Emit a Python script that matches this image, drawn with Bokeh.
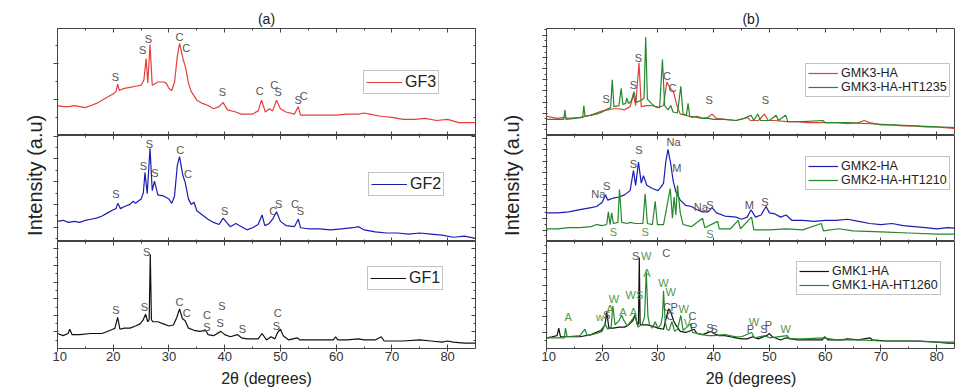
from math import pi
from bokeh.plotting import figure
from bokeh.models import Range1d, LinearAxis, FixedTicker, Label, ColumnDataSource
from bokeh.layouts import row, column
from bokeh.embed import file_html
from bokeh.resources import INLINE
from bokeh.core.properties import value

FONT = "Liberation Sans"

# ---------------- data (2theta in degrees, intensity in a.u. of each sub-panel) -------------
X_MAJOR = [10, 20, 30, 40, 50, 60, 70, 80]
X_MINOR = [15, 25, 35, 45, 55, 65, 75, 85]
X_LABELS = ["10", "20", "30", "40", "50", "60", "70", "80"]

GF3 = [(10, 28), (11, 27), (12, 27), (13, 28), (14, 27), (15, 26), (16, 28), (17, 30), (18, 33),
       (19, 36), (20, 39), (20.5, 41), (20.8, 48), (21.1, 42), (22, 44), (23, 45), (24, 46),
       (25, 47), (25.5, 52), (25.9, 72), (26.2, 49), (26.6, 85), (27, 47), (28, 50), (29, 50),
       (29.5, 49), (30, 44), (30.5, 42), (31, 50), (31.5, 74), (31.9, 86), (32.5, 72), (33, 63),
       (33.5, 49), (34, 41), (35, 33), (36, 30), (37, 28), (38, 25), (39, 27), (39.7, 31),
       (40.5, 24), (42, 22), (43, 20), (45, 20), (46, 23), (46.6, 33), (47.3, 22), (48, 25),
       (48.6, 23), (49.3, 33), (50, 25), (51, 22), (52.5, 20), (53.2, 27), (53.6, 19), (55, 19),
       (57, 19), (60, 19), (62, 20), (64, 20), (65, 21), (66, 20), (68, 18), (70, 17), (72, 15),
       (74, 15), (76, 16), (78, 14), (80, 15), (82, 12), (85, 12)]

GF2 = [(10, 19), (11, 20), (12, 18), (13, 19), (14, 18), (15, 20), (16, 21), (17, 22), (18, 24),
       (19, 27), (20, 30), (20.5, 31), (20.8, 36), (21.3, 31), (22, 33), (23, 35), (23.6, 38),
       (24, 36), (25, 40), (25.4, 46), (25.7, 65), (26.1, 45), (26.6, 88), (27, 48), (27.4, 57),
       (28, 44), (29, 43), (30, 40), (30.5, 36), (31, 43), (31.5, 72), (31.9, 80), (32.5, 62),
       (32.9, 56), (33.5, 40), (34, 35), (34.5, 37), (35, 29), (36, 25), (37, 21), (38, 18),
       (39, 16), (39.7, 22), (40.5, 17), (41, 14), (42, 17), (43, 14), (44, 11), (45, 13),
       (46, 16), (46.7, 25), (47.2, 15), (48, 17), (48.6, 21), (49.3, 28), (50, 19), (51, 15),
       (52.5, 14), (53.2, 21), (53.6, 13), (55, 12), (57, 12), (59, 11), (61, 12), (63, 13),
       (64, 14), (65, 11), (67, 9), (69, 8), (71, 8), (73, 7), (75, 8), (77, 7), (79, 6),
       (81, 4), (83, 5), (85, 3)]

GF1 = [(10, 14), (11, 12), (11.9, 14), (12.2, 18), (12.6, 13), (14, 13), (16, 14), (18, 14),
       (19.5, 17), (20.3, 19), (20.8, 29), (21.2, 18), (22, 19), (23, 19), (24, 21), (24.8, 23),
       (25.3, 26), (25.8, 32), (26.2, 25), (26.45, 27), (26.65, 88), (26.85, 27), (27.1, 25),
       (28, 25), (29, 23), (30, 21), (30.8, 22), (31.4, 29), (31.9, 37), (32.4, 28), (32.9, 26),
       (33.5, 19), (34.5, 17), (35.5, 16), (36.6, 17), (37, 13), (38, 12), (39.3, 16), (40, 13),
       (41, 11), (42.3, 13), (43, 10), (44, 9), (45, 9), (46, 9), (46.7, 14), (47.5, 8),
       (48.3, 11), (49, 9), (49.5, 15), (50, 18), (50.5, 12), (51.5, 8), (53, 10), (53.5, 8),
       (55, 8), (57, 8), (59.5, 8), (59.9, 11), (60.3, 8), (62, 8), (64, 9), (65, 8), (67, 8),
       (68.1, 11), (68.6, 7), (70, 7), (72, 7), (75, 8), (77, 7), (79, 6), (80, 7), (81, 6),
       (83, 5), (85, 5)]

GMK3_HA = [(10, 18), (11, 17), (12, 16), (13, 17), (14, 16), (16, 17), (18, 19), (20, 23),
           (21, 24), (22, 25), (23, 25), (24, 24), (25, 27), (25.6, 38), (26, 28), (26.6, 68),
           (27, 27), (28, 28), (29, 28), (30, 26), (31, 28), (31.6, 50), (32.2, 44), (32.8, 41),
           (33.4, 28), (34, 20), (35, 19), (36, 17), (37, 18), (38, 16), (39, 17), (39.7, 20),
           (40.5, 16), (42, 15), (44, 14), (46.1, 17), (46.6, 14), (48, 14), (49.1, 20),
           (49.8, 14), (51, 14), (53, 13), (55, 13), (57, 12), (60, 12), (62, 12), (64, 11),
           (66, 12), (67, 14), (68, 12), (70, 10), (72, 10), (74, 9), (76, 9), (78, 8), (80, 8),
           (82, 7), (85, 6)]

GMK3_HT1235 = [(10, 15), (12, 15), (13.1, 15), (13.3, 24), (13.5, 15), (15, 16), (16.5, 17),
               (16.7, 28), (16.9, 18), (18, 19), (19, 20), (20, 22), (21, 25), (21.5, 26),
               (21.8, 52), (22.1, 27), (23, 28), (23.4, 44), (23.7, 29), (24.2, 30), (24.4, 35),
               (24.7, 30), (25.2, 32), (25.7, 41), (26.1, 31), (27, 33), (27.5, 35), (27.8, 92),
               (28.1, 34), (28.8, 30), (29.5, 27), (30.3, 26), (30.8, 71), (31.2, 28), (31.8, 24),
               (32.3, 28), (32.7, 22), (33.5, 21), (34.1, 46), (34.5, 20), (35.1, 19), (35.4, 30),
               (35.7, 18), (37, 17), (38, 16), (39, 16), (40, 15), (42, 15), (44, 14), (45.5, 16),
               (46.7, 19), (47.2, 14), (47.9, 20), (48.4, 14), (50, 14), (51.2, 19), (51.6, 14),
               (52.9, 19), (53.3, 13), (56, 13), (59.6, 14), (60, 12), (64, 12), (68, 11),
               (72, 10), (76, 9), (80, 8), (85, 7)]

GMK2_HA = [(10, 27), (12, 27), (14, 28), (16, 30), (18, 32), (19, 33), (20, 37), (20.6, 44),
           (21, 39), (22, 41), (23, 42), (24, 44), (25, 48), (25.6, 67), (26, 53), (26.5, 75),
           (27, 55), (27.4, 62), (28, 53), (29, 50), (30, 48), (30.5, 51), (31, 55), (31.4, 75),
           (31.8, 87), (32.3, 73), (32.7, 58), (33.2, 47), (34, 39), (35, 34), (36, 33), (37, 30),
           (38, 28), (39, 28), (39.7, 32), (40.5, 27), (42, 24), (44, 23), (45, 21), (46, 23),
           (46.7, 30), (47.5, 23), (48.5, 25), (49.4, 33), (50, 27), (51, 26), (52, 23), (53, 25),
           (54, 20), (56, 20), (58, 19), (60, 20), (62, 20), (64, 21), (66, 19), (68, 17),
           (70, 16), (72, 17), (74, 15), (76, 14), (78, 13), (80, 12), (82, 13), (85, 12)]

GMK2_HT1210 = [(10, 12), (12, 12), (14, 13), (16, 13), (18, 14), (19, 16), (20, 15), (20.8, 16),
               (21.1, 28), (21.4, 16), (21.7, 27), (22, 17), (22.8, 18), (23.1, 49), (23.5, 18),
               (24.5, 17), (25, 18), (26, 17), (27.3, 17), (27.7, 45), (28.1, 17), (29, 16),
               (29.5, 38), (29.9, 16), (31, 16), (32.2, 50), (32.6, 22), (32.9, 42), (33.2, 25),
               (33.5, 53), (34, 27), (34.5, 16), (36, 14), (38, 22), (38.4, 13), (40.7, 19),
               (41, 12), (43, 12), (44.4, 20), (44.8, 12), (46.8, 23), (47.2, 11), (50, 11),
               (53, 12), (56, 11), (59.3, 17), (59.7, 10), (62.4, 12), (65, 10), (70, 9),
               (75, 8), (80, 7), (85, 7)]

GMK1_HA = [(10, 10), (11, 11), (11.9, 12), (12.2, 19), (12.5, 11), (14, 11), (16, 11), (18, 13),
           (19.8, 17), (20.5, 22), (20.8, 34), (21.2, 19), (22, 19), (23, 20), (24, 20),
           (24.7, 22), (25.5, 26), (25.9, 31), (26.3, 22), (26.5, 23), (26.65, 85), (26.8, 23),
           (27, 22), (28, 22), (29, 21), (30, 19), (31, 18), (31.5, 29), (31.9, 37), (32.3, 34),
           (32.8, 26), (33.2, 22), (34, 16), (35, 15), (36.5, 18), (37, 14), (38, 13),
           (39.5, 16), (40, 14), (41, 12), (42, 12), (43, 11), (44, 10), (45, 9), (46, 9),
           (47, 11), (48, 9), (49.5, 12), (50, 14), (50.5, 11), (52, 8), (53, 10), (55, 8),
           (57, 8), (59.5, 8), (59.9, 11), (60.5, 8), (63, 8), (64, 9), (66, 8), (68, 10),
           (68.5, 8), (71, 7), (74, 7), (77, 7), (80, 6), (82, 5), (85, 5)]

GMK1_HT1260 = [(10, 10), (12, 10), (13.2, 10), (13.4, 19), (13.7, 11), (16, 12), (16.9, 18),
               (17.3, 12), (19, 14), (20, 16), (20.5, 23), (21, 18), (21.6, 20), (21.9, 40),
               (22.3, 22), (23, 26), (23.5, 31), (23.9, 26), (24.5, 21), (25.5, 28), (25.9, 32),
               (26.4, 20), (27.2, 23), (27.6, 30), (27.9, 72), (28.2, 30), (28.5, 22), (29, 19),
               (29.5, 25), (30, 19), (30.5, 22), (30.8, 30), (31, 54), (31.3, 25), (31.6, 18),
               (32, 17), (32.5, 25), (33, 16), (33.5, 18), (34.1, 31), (34.5, 17), (35.2, 20),
               (35.8, 23), (36.2, 15), (37, 14), (38, 13), (39, 12), (40, 12), (42, 13), (44, 11),
               (45, 11), (46.8, 15), (47.3, 10), (49.2, 12), (50, 10), (53.2, 12), (53.6, 9),
               (56, 9), (59.7, 10), (62, 8), (66, 8), (70, 7), (75, 7), (80, 6), (85, 6)]

# phase labels: (text, 2theta, intensity)
GF3_LBL = [("S", 20.4, 55), ("S", 25.3, 80), ("S", 26.3, 90), ("C", 31.9, 92), ("C", 33.1, 82),
           ("S", 39.6, 41), ("C", 46.3, 42), ("C", 48.9, 47), ("S", 49.6, 41), ("S", 53.2, 33),
           ("C", 54.2, 37)]
GF2_LBL = [("S", 20.5, 45), ("S", 25.4, 71), ("S", 26.5, 92), ("S", 27.5, 65), ("C", 32.0, 86),
           ("C", 33.4, 64), ("S", 40.0, 29), ("C", 48.7, 29), ("S", 49.7, 35), ("C", 52.6, 35),
           ("S", 53.6, 29)]
GF1_LBL = [("S", 26.0, 90), ("S", 20.5, 36), ("S", 25.6, 39), ("C", 31.9, 43), ("C", 33.2, 33),
           ("C", 36.8, 31), ("S", 36.8, 20), ("S", 39.5, 40), ("S", 39.2, 24), ("S", 43.2, 18),
           ("C", 49.5, 33), ("S", 49.3, 21)]
GMK3_LBL = [("S", 20.7, 34), ("S", 25.6, 47), ("S", 26.5, 72), ("C", 31.6, 56), ("C", 32.6, 44),
            ("S", 39.2, 33), ("S", 49.3, 33)]
GMK2_LBL = [("Na", 19.3, 45), ("S", 20.8, 52), ("S", 25.6, 73), ("S", 26.6, 86), ("Na", 32.8, 94),
            ("M", 33.4, 69), ("Na", 37.7, 33), ("S", 39.3, 34), ("M", 46.4, 34), ("S", 49.2, 37)]
GMK2_LBL_G = [("S", 22.0, 9), ("S", 27.7, 9), ("S", 39.3, 7)]
GMK1_LBL = [("S", 26.0, 86), ("C", 31.5, 89), ("S", 20.8, 31), ("C", 31.6, 39), ("P", 32.9, 39),
            ("C", 32.2, 30), ("C", 36.2, 30), ("P", 36.4, 20), ("S", 39.3, 19), ("S", 40.1, 18),
            ("P", 46.6, 18), ("S", 49.0, 18), ("P", 49.8, 22)]
GMK1_LBL_G = [("W", 27.9, 86), ("A", 28.0, 71), ("W", 31.0, 61), ("W", 32.3, 53), ("W", 22.1, 46),
              ("W", 25.1, 50), ("S", 26.7, 50), ("A", 23.7, 34), ("A", 25.6, 34), ("A", 13.9, 29),
              ("w", 19.6, 29), ("A", 21.4, 37), ("W", 34.6, 37), ("V", 35.3, 24), ("W", 47.2, 25),
              ("W", 52.9, 18)]

RED, BLUE, BLACK, GREEN = "#e3403a", "#1c1cb2", "#111111", "#23882a"
GRAY_LBL, GREEN_LBL = "#555555", "#4e9a4e"
AX = "#444444"


def split(pairs):
    return [p[0] for p in pairs], [p[1] for p in pairs]


def hide_labels(ax, ticks):
    ax.major_label_overrides = {v: "" for v in ticks}
    ax.major_label_text_font_size = "0px"
    ax.major_label_standoff = 0


def x_axis(p, side, t_out=0, labels=False):
    ax = LinearAxis(ticker=FixedTicker(ticks=X_MAJOR, minor_ticks=X_MINOR))
    ax.major_tick_in, ax.major_tick_out = 4, t_out
    ax.minor_tick_in, ax.minor_tick_out = 2, 0
    ax.axis_line_color = None
    ax.major_tick_line_color = AX
    ax.minor_tick_line_color = AX
    if labels:
        ax.major_label_overrides = {v: s for v, s in zip(X_MAJOR, X_LABELS)}
        ax.major_label_text_font = FONT
        ax.major_label_text_font_size = "13px"
        ax.major_label_text_color = "#333333"
        ax.major_label_standoff = 0
        ax.axis_label = "2\u03b8 (degrees)"
        ax.axis_label_text_font = FONT
        ax.axis_label_text_font_size = "16px"
        ax.axis_label_text_font_style = "normal"
        ax.axis_label_text_color = "#222222"
        ax.axis_label_standoff = 6
    else:
        hide_labels(ax, X_MAJOR)
    p.add_layout(ax, side)


def y_axis(p, side, major, minor):
    ax = LinearAxis(ticker=FixedTicker(ticks=major, minor_ticks=minor))
    if side == "left":
        ax.major_tick_in, ax.major_tick_out = 1, 4
        ax.minor_tick_in, ax.minor_tick_out = 0, 2
    else:
        ax.major_tick_in, ax.major_tick_out = 4, 0
        ax.minor_tick_in, ax.minor_tick_out = 2, 0
    ax.axis_line_color = None
    ax.major_tick_line_color = AX
    ax.minor_tick_line_color = AX
    hide_labels(ax, major)
    p.add_layout(ax, side)


def make_sub(x_end, width, height, top, bottom, ymaj, ymin, right_axis, pos, title=None):
    kw = dict(title=title) if title else {}
    p = figure(width=width, height=height, x_range=Range1d(10, x_end), y_range=Range1d(0, 100),
               output_backend="svg", toolbar_location=None, x_axis_location=None,
               y_axis_location=None, min_border_left=5, min_border_right=25 if right_axis else 0,
               min_border_top=top, min_border_bottom=bottom, outline_line_color=AX,
               outline_line_width=1, **kw)
    p.grid.visible = False
    if title:
        p.title.text_font = FONT
        p.title.text_font_size = "14px"
        p.title.text_font_style = "normal"
        p.title.text_color = "#222222"
        p.title.align = "center"
        p.title.standoff = 3
    x_axis(p, "above")
    x_axis(p, "below", t_out=3 if pos == "bottom" else 0, labels=(pos == "bottom"))
    y_axis(p, "left", ymaj, ymin)
    if right_axis:
        y_axis(p, "right", ymaj, ymin)
    return p


def add_curve(p, pairs, color, name):
    x, y = split(pairs)
    p.line(x, y, line_color=color, line_width=1.2, legend_label=name)


def add_labels(p, labels, color):
    src = ColumnDataSource(dict(x=[l[1] for l in labels], y=[l[2] for l in labels],
                                t=[l[0] for l in labels]))
    p.text(x="x", y="y", text="t", source=src, text_font=value(FONT),
           text_font_size=value("11px"), text_color=color, text_align="center",
           text_baseline="middle")


def style_legend(p, loc, size, glyph_w):
    lg = p.legend[0]
    lg.location = loc
    lg.border_line_color = "#888888"
    lg.border_line_width = 1
    lg.background_fill_alpha = 1
    lg.label_text_font = FONT
    lg.label_text_font_size = size
    lg.label_text_color = "#222222"
    lg.glyph_width = glyph_w
    lg.glyph_height = 12
    lg.label_height = 12
    lg.label_standoff = 3
    lg.spacing = 0
    lg.padding = 2
    lg.margin = 0


def tick_list(step, n):
    return [round(step * k, 2) for k in range(1, n + 1)]


def ylabel_fig(width, xfrac):
    f = figure(width=width, height=392, x_range=Range1d(0, 1), y_range=Range1d(0, 1),
               output_backend="svg", toolbar_location=None, x_axis_location=None,
               y_axis_location=None, min_border=0, outline_line_color=None)
    f.grid.visible = False
    f.add_layout(Label(x=xfrac, y=0.554, text="Intensity (a.u)", angle=pi / 2,
                       text_align="center", text_baseline="middle", text_font=FONT,
                       text_font_size="20px", text_color="#222222"))
    return f


# ---------------- layout sizes ----------------
AW, BW = 448, 414
A_END = 85
B_END = 10 + (BW - 5) / (418 / 75)

# ---------------- panel (a) ----------------
a1 = make_sub(A_END, AW, 135, 28, 0, [33.5, 67], [16.75, 50.25, 83.75], True, "top", "(a)")
add_curve(a1, GF3, RED, "GF3")
add_labels(a1, GF3_LBL, GRAY_LBL)
style_legend(a1, (306, 41), "16px", 36)

a2 = make_sub(A_END, AW, 106, 0, 0, [13.5, 35, 56.5, 78, 99.5], [2.75, 24.25, 45.75, 67.25, 88.75],
              True, "mid")
add_curve(a2, GF2, BLUE, "GF2")
add_labels(a2, GF2_LBL, GRAY_LBL)
style_legend(a2, (311, 45), "16px", 36)

a3 = make_sub(A_END, AW, 151, 0, 44, tick_list(15.5, 6),
              [round(7.75 + 15.5 * k, 2) for k in range(6)], True, "bottom")
add_curve(a3, GF1, BLACK, "GF1")
add_labels(a3, GF1_LBL, GRAY_LBL)
style_legend(a3, (310, 58), "16px", 36)

# ---------------- panel (b) ----------------
b1 = make_sub(B_END, BW, 135, 28, 0, tick_list(10.4, 9),
              [round(5.2 + 10.4 * k, 2) for k in range(10)], False, "top", "(b)")
add_curve(b1, GMK3_HA, RED, "GMK3-HA")
add_curve(b1, GMK3_HT1235, GREEN, "GMK3-HA-HT1235")
add_labels(b1, GMK3_LBL, GRAY_LBL)
style_legend(b1, (259, 38), "12.5px", 30)

b2 = make_sub(B_END, BW, 106, 0, 0, tick_list(10.8, 9),
              [round(5.4 + 10.8 * k, 2) for k in range(9)], False, "mid")
add_curve(b2, GMK2_HA, BLUE, "GMK2-HA")
add_curve(b2, GMK2_HT1210, GREEN, "GMK2-HA-HT1210")
add_labels(b2, GMK2_LBL, GRAY_LBL)
add_labels(b2, GMK2_LBL_G, GREEN_LBL)
style_legend(b2, (259, 51), "12.5px", 30)

b3 = make_sub(B_END, BW, 151, 0, 44, tick_list(14.8, 6),
              [round(7.4 + 14.8 * k, 2) for k in range(7)], False, "bottom")
add_curve(b3, GMK1_HA, BLACK, "GMK1-HA")
add_curve(b3, GMK1_HT1260, GREEN, "GMK1-HA-HT1260")
add_labels(b3, GMK1_LBL, GRAY_LBL)
add_labels(b3, GMK1_LBL_G, GREEN_LBL)
style_legend(b3, (250, 53), "12.5px", 30)

lab_a = ylabel_fig(52, 34 / 52)
lab_b = ylabel_fig(41, 11 / 41)

layout = row(lab_a, column(a1, a2, a3), lab_b, column(b1, b2, b3))

open("out.html", "w").write(file_html(layout, INLINE))
